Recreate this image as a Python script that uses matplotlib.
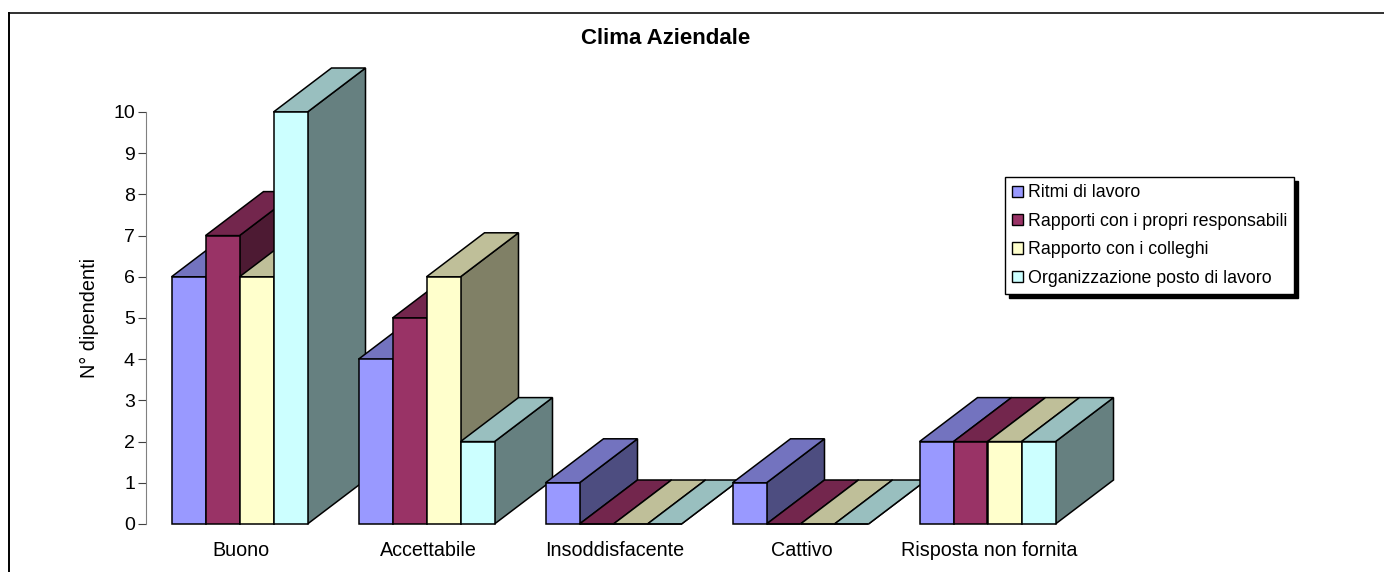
import numpy as np
import matplotlib
matplotlib.use("Agg")
import matplotlib.pyplot as plt
from matplotlib.lines import Line2D
from matplotlib.patches import Polygon, Rectangle
from matplotlib.transforms import ScaledTranslation

plt.rcParams['font.family'] = ['Liberation Sans', 'DejaVu Sans']

# dati
categorie = ["Buono", "Accettabile", "Insoddisfacente", "Cattivo", "Risposta non fornita"]
ritmi = [6, 4, 1, 1, 2]
responsabili = [7, 5, 0, 0, 2]
colleghi = [6, 6, 0, 0, 2]
organizzazione = [10, 2, 0, 0, 2]

nomi_serie = ["Ritmi di lavoro", "Rapporti con i propri responsabili",
              "Rapporto con i colleghi", "Organizzazione posto di lavoro"]
colori = ["#9999FF", "#993366", "#FFFFCC", "#CCFFFF"]
colori_top = ["#7373BF", "#73264D", "#BFBF99", "#99BFBF"]
colori_lato = ["#4D4D80", "#4D1A33", "#808066", "#668080"]

W, H = 1384, 572
fig = plt.figure(figsize=(W / 100, H / 100), dpi=100)

# cornice: solo sopra e a sinistra, il resto e' tagliato
fig.add_artist(Line2D([9 / W, 1], [1 - 12.5 / H, 1 - 12.5 / H], color='#202020', linewidth=1.3))
fig.add_artist(Line2D([9 / W, 9 / W], [0, 1 - 12.5 / H], color='black', linewidth=1.4))

ax = fig.add_axes([146 / W, (572 - 524) / H, (1081 - 146) / W, (524 - 112) / H])
ax.set_xlim(-0.5, 4.5)
ax.set_ylim(0, 10)

larghezza = 34 / 187
dx = 58 / 187   # profondita' 3D in unita' categoria
dy = 44 / 41.2  # profondita' 3D in unita' valore

serie = [ritmi, responsabili, colleghi, organizzazione]


def disegna_barra(x, v, i):
    x1 = x + larghezza
    lato = [(x1, 0), (x1 + dx, dy), (x1 + dx, v + dy), (x1, v)]
    top = [(x, v), (x + dx, v + dy), (x1 + dx, v + dy), (x1, v)]
    fronte = [(x, 0), (x1, 0), (x1, v), (x, v)]
    for pts, col in ((lato, colori_lato[i]), (top, colori_top[i]), (fronte, colori[i])):
        ax.add_patch(Polygon(pts, closed=True, facecolor=col, edgecolor='black',
                             linewidth=1.1, clip_on=False, joinstyle='miter'))


for c in range(len(categorie)):
    for i in range(len(serie)):
        disegna_barra(c - 2 * larghezza + i * larghezza, serie[i][c], i)

ax.spines['top'].set_visible(False)
ax.spines['right'].set_visible(False)
ax.spines['bottom'].set_visible(False)
ax.spines['left'].set_color('#808080')
ax.set_yticks(range(0, 11))
ax.set_xticks(range(len(categorie)))
ax.set_xticklabels(categorie)
ax.tick_params(axis='y', labelsize=14, length=6, color='#404040', pad=2)
ax.tick_params(axis='x', labelsize=14.2, length=0, pad=12)

# etichette x un pelo a destra
sposta = ScaledTranslation(1.5 / 100, 0, fig.dpi_scale_trans)
for etichetta in ax.get_xticklabels():
    etichetta.set_transform(etichetta.get_transform() + sposta)

fig.text(89 / W, 1 - 318 / H, "N° dipendenti", rotation=90, ha='center', va='center', fontsize=14.3)
fig.text(666 / W, 1 - 38 / H, "Clima Aziendale", ha='center', va='center', fontsize=16, fontweight='bold')

# legenda con ombra nera
handles = [Rectangle((0, 0), 1, 1, facecolor=c, edgecolor='black', linewidth=1) for c in colori]
leg = fig.legend(handles, nomi_serie, loc='upper left', bbox_to_anchor=(1005 / W, 1 - 177 / H),
                 borderaxespad=0, fontsize=12.8, frameon=True, fancybox=False, framealpha=1,
                 edgecolor='black', handlelength=0.6, handleheight=0.6, handletextpad=0.25,
                 labelspacing=0.64, borderpad=0.42,
                 shadow={'color': 'black', 'alpha': 1, 'ox': 2.9, 'oy': -2.9})
leg.get_frame().set_linewidth(1)

fig.savefig("out.png", dpi=100)
